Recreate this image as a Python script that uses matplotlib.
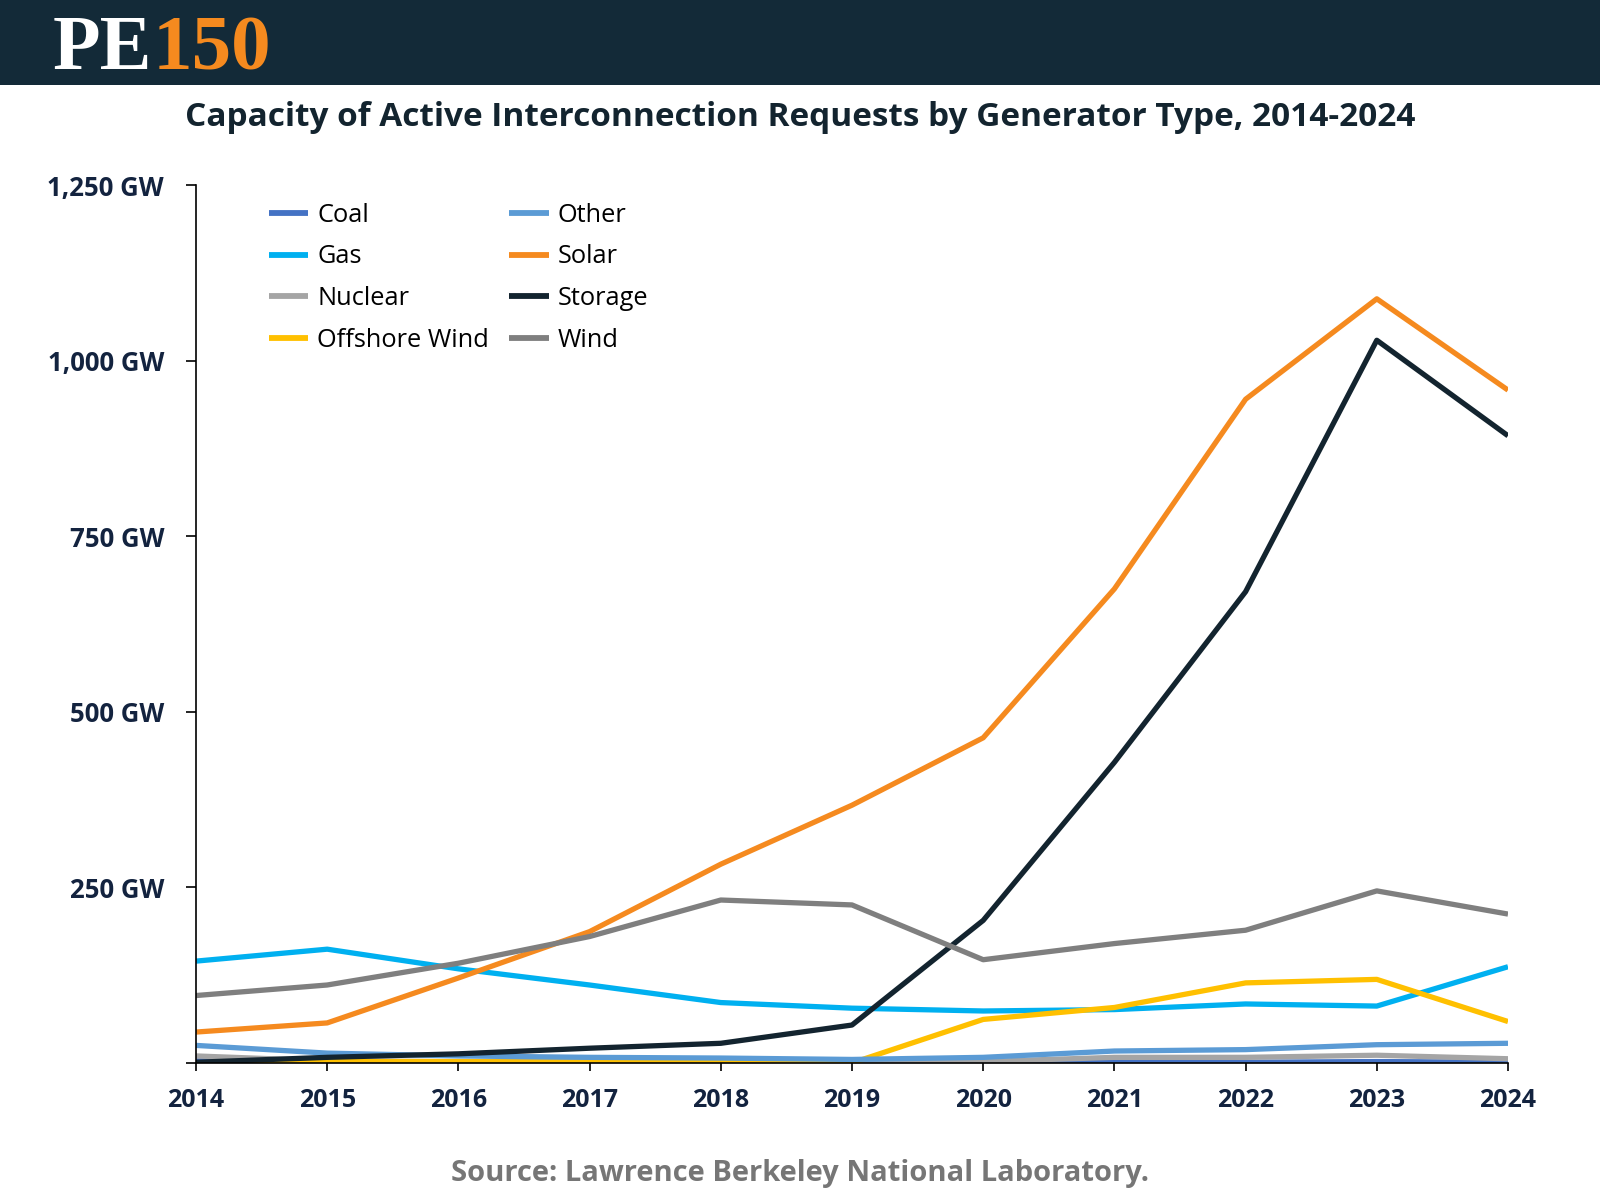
import matplotlib.pyplot as plt
from matplotlib.patches import Rectangle
from matplotlib.ticker import FuncFormatter

# capacity in active queues, GW
years = [2014, 2015, 2016, 2017, 2018, 2019, 2020, 2021, 2022, 2023, 2024]
coal = [3, 2, 1, 1, 1, 1, 1, 1, 1, 2, 1]
gas = [145, 162, 134, 111, 86, 78, 74, 76, 84, 81, 137]
nuclear = [10, 3, 2, 2, 2, 2, 2, 8, 8, 11, 6]
offshore_wind = [0, 2, 2, 1, 1, 0, 62, 79, 114, 119, 59]
other = [25, 14, 10, 8, 7, 5, 8, 17, 19, 26, 28]
solar = [44, 57, 121, 187, 283, 367, 463, 675, 945, 1088, 958]
storage = [1, 8, 13, 21, 28, 54, 203, 428, 671, 1029, 893]
wind = [96, 111, 142, 180, 232, 225, 147, 170, 189, 245, 212]

names = ["Coal", "Gas", "Nuclear", "Offshore Wind", "Other", "Solar", "Storage", "Wind"]
series = [coal, gas, nuclear, offshore_wind, other, solar, storage, wind]
colors = ["#4472C4", "#00B0F0", "#A5A5A5", "#FFC000",
          "#5B9BD5", "#F58A1F", "#13242F", "#7F7F7F"]

navy = "#13233F"
plt.rcParams['font.family'] = ['Open Sans', 'DejaVu Sans']

fig = plt.figure(figsize=(16, 12), dpi=100)

# header band with logo
fig.patches.append(Rectangle((0, 0.929), 1, 0.071, transform=fig.transFigure,
                             facecolor="#132A38", edgecolor="none", zorder=0))
fig.text(0.033, 0.9425, "PE", color="white", fontsize=56, fontweight="bold",
         family="Liberation Serif", ha="left", va="baseline")
fig.text(0.0955, 0.9425, "150", color="#F58A1F", fontsize=57, fontweight="bold",
         family="Liberation Serif", ha="left", va="baseline")

fig.text(0.5, 0.902, "Capacity of Active Interconnection Requests by Generator Type, 2014-2024",
         ha="center", va="center", fontsize=24, fontweight="bold", color="#13242F")
fig.text(0.5, 0.022, "Source: Lawrence Berkeley National Laboratory.",
         ha="center", va="center", fontsize=21, fontweight="bold", color="#767676")

ax = fig.add_axes([0.1225, 0.1142, 0.82, 0.7316])
for name, vals, c in zip(names, series, colors):
    ax.plot(years, vals, color=c, linewidth=3.8, label=name, solid_capstyle="butt")

ax.set_xlim(2014, 2024)
ax.set_ylim(0, 1250)
ax.set_xticks(years)
ax.set_yticks([0, 250, 500, 750, 1000, 1250])
ax.yaxis.set_major_formatter(FuncFormatter(lambda v, p: "" if v == 0 else "{:,.0f} GW".format(v)))
ax.tick_params(axis="both", direction="out", colors="black", width=1.2,
               labelcolor=navy)
ax.tick_params(axis="x", length=6, pad=12, labelsize=18)
ax.tick_params(axis="y", length=7, pad=16, labelsize=18.5)
for lab in ax.get_xticklabels() + ax.get_yticklabels():
    lab.set_fontweight("bold")
for s in ["top", "right"]:
    ax.spines[s].set_visible(False)
ax.spines["left"].set_linewidth(1.2)
ax.spines["bottom"].set_linewidth(1.2)
ax.spines["left"].set_color("black")
ax.spines["bottom"].set_color("black")

leg = ax.legend(ncol=2, loc="upper left", bbox_to_anchor=(0.038, 1.006), frameon=False,
                fontsize=18.3, handlelength=1.55, handletextpad=0.35, columnspacing=0.8,
                labelspacing=0.66)
for ln in leg.get_lines():
    ln.set_linewidth(4.2)

fig.savefig("out.png", dpi=100)
